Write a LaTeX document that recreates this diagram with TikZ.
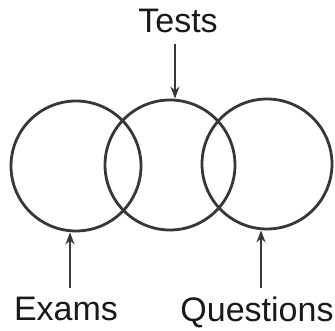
\documentclass[tikz,border=0pt]{standalone}
\usepackage{fontspec}
\setmainfont{Liberation Sans}
\usetikzlibrary{arrows.meta,positioning,calc}
\definecolor{inkcol}{RGB}{55,55,55}

\tikzset{
  ring/.style={circle,draw=inkcol,line width=2.8pt,minimum size=130pt,inner sep=0pt},
  lbl/.style={font=\fontsize{34}{34}\selectfont,text=black!90,inner sep=0pt,text depth=0pt},
  arr/.style={-{Stealth[length=12pt,width=9pt]},draw=inkcol,line width=2.8pt}
}

\begin{document}
\begin{tikzpicture}[x=1pt,y=-1pt]
  \useasboundingbox (0,0) rectangle (335,331);
  % the three sets
  \node[ring] (exams) at (76,166) {};
  \node[ring] (tests) at (170,165) {};
  \node[ring] (questions) at (267,164) {};
  % names
  \node[lbl] (testslbl) at (178,21) {Tests};
  \node[lbl] (examslbl) at (66,309) {Exams};
  \node[lbl] (questionslbl) at (257,309) {Questions};
  % pointers
  \coordinate (ttail) at (175,44);
  \coordinate (etail) at (70,288);
  \coordinate (qtail) at (261,288);
  \draw[arr] (ttail) -- (ttail |- tests.north);
  \draw[arr] (etail) -- (etail |- exams.south);
  \draw[arr] (qtail) -- (qtail |- questions.south);
\end{tikzpicture}
\end{document}
